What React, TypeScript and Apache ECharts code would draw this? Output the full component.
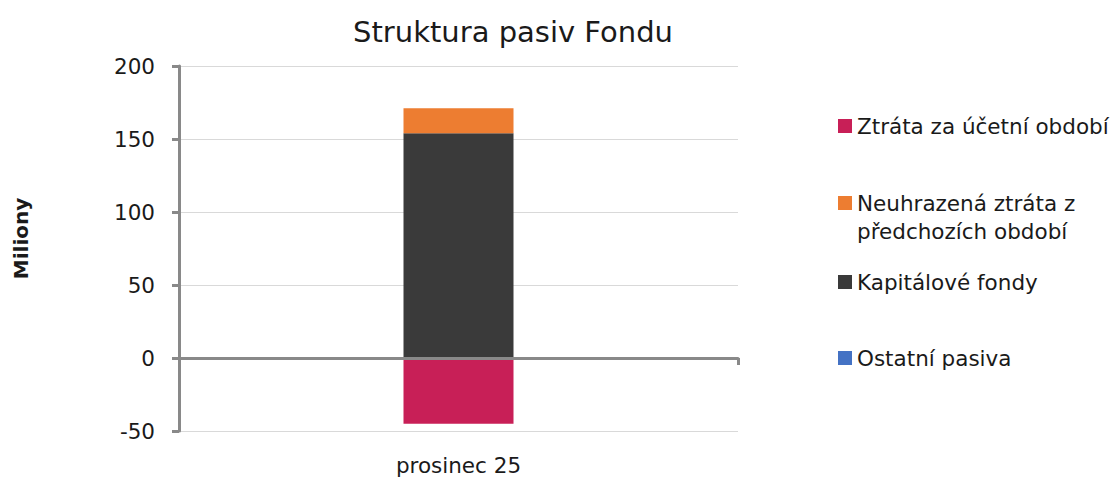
import React, { useEffect, useRef } from "react";
import * as echarts from "echarts";

const categories = ["prosinec 25"];
const ostatniPasiva = [0];
const kapitaloveFondy = [154];
const neuhrazenaZtrata = [17];
const ztrataObdobi = [-45];
const yTicks = { min: -50, max: 200, interval: 50 };

const FONT = "'DejaVu Sans', 'Noto Sans', sans-serif";
const TEXT = "#1a1a1a";
const AXIS = "#898989";

export default function App() {
  const ref = useRef<HTMLDivElement>(null);
  useEffect(() => {
    const chart = echarts.init(ref.current!, undefined, { renderer: "svg" });
    const legendBase = {
      orient: "vertical" as const,
      left: 838,
      padding: 0,
      itemWidth: 14,
      itemHeight: 14,
      itemGap: 0,
      icon: "rect",
      textStyle: { fontFamily: FONT, fontSize: 21.5, color: TEXT, lineHeight: 28 },
      selectedMode: false,
    };
    chart.setOption({
      animation: false,
      title: {
        text: "Struktura pasiv Fondu",
        left: 508,
        top: 9,
        textAlign: "center",
        textStyle: { fontFamily: FONT, fontSize: 29, lineHeight: 36, fontWeight: "normal", color: TEXT },
      },
      legend: [
        { ...legendBase, top: 112, data: ["Ztráta za účetní období"] },
        {
          ...legendBase,
          top: 189,
          itemHeight: 56,
          data: [{ name: "Neuhrazená ztráta z\npředchozích období", icon: "path://M0,0M0,7h14v14h-14zM14,56" }],
        },
        { ...legendBase, top: 268, data: ["Kapitálové fondy"] },
        { ...legendBase, top: 344, data: ["Ostatní pasiva"] },
      ],
      grid: { left: 179, right: 380, top: 66, bottom: 48, outerBoundsMode: "none", containLabel: false },
      xAxis: {
        type: "category",
        data: categories,
        axisLine: { onZero: true, lineStyle: { color: AXIS, width: 3 } },
        axisTick: { show: true, length: 7, lineStyle: { color: AXIS, width: 3 } },
        axisLabel: { fontFamily: FONT, fontSize: 21.5, color: TEXT, margin: 23 },
        z: 5,
      },
      yAxis: {
        type: "value",
        min: yTicks.min,
        max: yTicks.max,
        interval: yTicks.interval,
        name: "Miliony",
        nameLocation: "middle",
        nameGap: 148,
        nameTextStyle: { fontFamily: FONT, fontSize: 20, fontWeight: "bold", color: TEXT, padding: [0, 0, 0, 20] },
        axisLine: { show: true, lineStyle: { color: AXIS, width: 3 } },
        axisTick: { show: true, length: 7, lineStyle: { color: AXIS, width: 3 } },
        axisLabel: { fontFamily: FONT, fontSize: 21.5, color: TEXT, margin: 24 },
        splitLine: { lineStyle: { color: "#d9d9d9", width: 1 } },
      },
      series: [
        { name: "Ostatní pasiva", type: "bar", stack: "a", data: ostatniPasiva, barWidth: 110, itemStyle: { color: "#4472c4" } },
        { name: "Kapitálové fondy", type: "bar", stack: "a", data: kapitaloveFondy, barWidth: 110, itemStyle: { color: "#3a3a3a" } },
        { name: "Neuhrazená ztráta z\npředchozích období", type: "bar", stack: "a", data: neuhrazenaZtrata, barWidth: 110, itemStyle: { color: "#ed7d31" } },
        { name: "Ztráta za účetní období", type: "bar", stack: "a", data: ztrataObdobi, barWidth: 110, itemStyle: { color: "#c81f57" } },
      ],
    });
    return () => chart.dispose();
  }, []);
  return <div ref={ref} style={{ position: "absolute", left: 0, top: 0, width: 1118, height: 479 }} />;
}
